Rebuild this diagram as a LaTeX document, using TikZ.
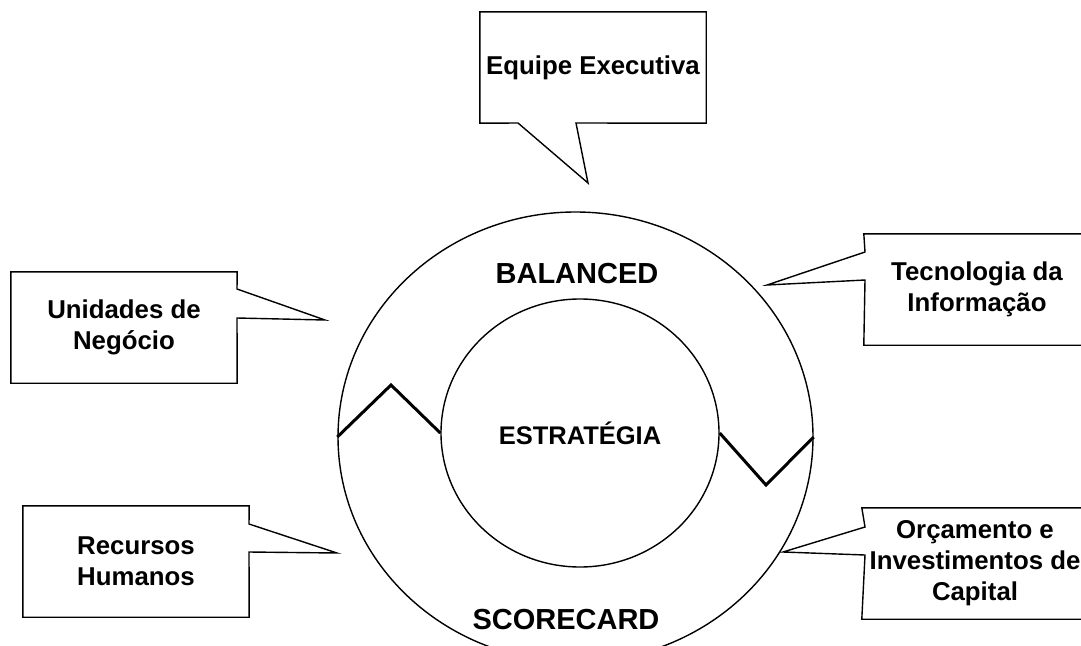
\documentclass[tikz,border=0pt]{standalone}
\usepackage{fontspec}
\setmainfont{Liberation Sans}
\usetikzlibrary{shapes.geometric}
\begin{document}
\begin{tikzpicture}[x=1pt,y=-1pt,
  calloutline/.style={draw=black, line width=1.4pt, fill=white, line join=miter},
  boxtext/.style={font=\fontsize{25.8}{31}\selectfont\bfseries, align=center, inner sep=0pt,
                  minimum width=226pt, minimum height=111pt},
  bigtext/.style={font=\fontsize{29}{34}\selectfont\bfseries, inner sep=0pt, anchor=base},
  midtext/.style={font=\fontsize{25.5}{31}\selectfont\bfseries, inner sep=0pt, anchor=base},
  ring/.style={ellipse, draw=black, line width=1.4pt, inner sep=0pt},
  zigline/.style={draw=black, line width=3pt, line join=miter}]
\useasboundingbox (0,0) rectangle (1081,645);
\clip (0,0) rectangle (1081,645);

% rings
\node[ring, minimum width=475pt, minimum height=450pt] (outer) at (575.5,437) {};
\node[ring, minimum width=278pt, minimum height=268pt] (inner) at (580,433) {};

% zigzags
\coordinate (zl) at (391,385);
\coordinate (zr) at (766,485);
\draw[zigline] (outer.west) -- (zl) -- (inner.west);
\draw[zigline] (inner.east) -- (zr) -- (outer.east);

% ring texts
\node[bigtext] (bal) at (577,283) {BALANCED};
\node[midtext] (est) at (580,444) {ESTRATÉGIA};
\node[bigtext] (sco) at (566,629) {SCORECARD};

% callout boxes
\node[boxtext] (eq) at (593,67.5) {Equipe Executiva};
\coordinate (eqa) at (518,123); \coordinate (eqt) at (588,183); \coordinate (eqb) at (576,123);
\draw[calloutline] (eq.north west) -- (eq.north east) -- (eq.south east) -- (eqb) -- (eqt) -- (eqa) -- (eq.south west) -- cycle;
\node[boxtext] at (eq) {Equipe Executiva};

\node[boxtext] (ti) at (977,289.5) {Tecnologia da\\Informação};
\coordinate (tia) at (865,252); \coordinate (tit) at (767,285); \coordinate (tib) at (865,280);
\draw[calloutline] (ti.north west) -- (ti.north east) -- (ti.south east) -- (ti.south west) -- (tib) -- (tit) -- (tia) -- cycle;
\node[boxtext] at (ti) {Tecnologia da\\Informação};

\node[boxtext] (or) at (975,563.5) {Orçamento e\\Investimentos de\\Capital};
\coordinate (ora) at (865,527); \coordinate (ort) at (783,552); \coordinate (orb) at (865,555);
\draw[calloutline] (or.north west) -- (or.north east) -- (or.south east) -- (or.south west) -- (orb) -- (ort) -- (ora) -- cycle;
\node[boxtext] at (or) {Orçamento e\\Investimentos de\\Capital};

\node[boxtext] (un) at (124,327.5) {Unidades de\\Negócio};
\coordinate (una) at (237,289); \coordinate (unt) at (325,320); \coordinate (unb) at (237,318);
\draw[calloutline] (un.north west) -- (un.north east) -- (una) -- (unt) -- (unb) -- (un.south east) -- (un.south west) -- cycle;
\node[boxtext] at (un) {Unidades de\\Negócio};

\node[boxtext] (rh) at (136,561.5) {Recursos\\Humanos};
\coordinate (rha) at (249,524); \coordinate (rht) at (337,553); \coordinate (rhb) at (249,552);
\draw[calloutline] (rh.north west) -- (rh.north east) -- (rha) -- (rht) -- (rhb) -- (rh.south east) -- (rh.south west) -- cycle;
\node[boxtext] at (rh) {Recursos\\Humanos};
\end{tikzpicture}
\end{document}
